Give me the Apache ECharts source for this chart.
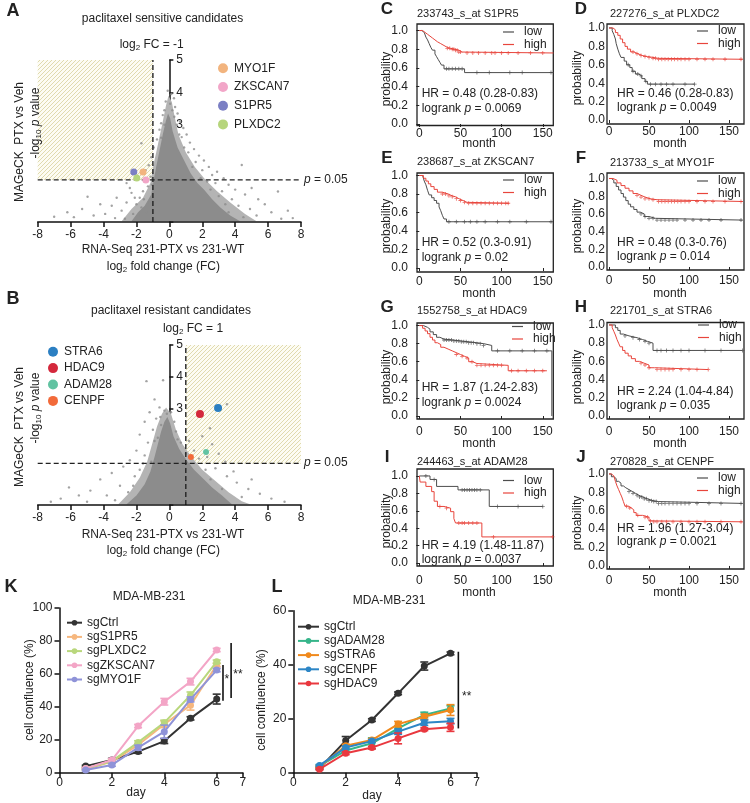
<!DOCTYPE html>
<html><head><meta charset="utf-8">
<script src="https://cdn.jsdelivr.net/npm/echarts@6/dist/echarts.min.js"></script>
<style>html,body{margin:0;padding:0;background:#fff}#c{width:750px;height:803px}</style>
</head><body><div id="c"></div>
<script>
// ---------------- DATA ----------------
const pCutoff = 1.3;               // -log10(0.05)
const fcCutSens = -1, fcCutRes = 1;
const volcanoYLabelMin = 3;

const sensNames = ['MYO1F','ZKSCAN7','S1PR5','PLXDC2'];
const sensLog2FC = [-1.6, -1.43, -2.16, -1.98];
const sensNegLogP = [1.54, 1.3, 1.54, 1.36];
const resNames = ['STRA6','HDAC9','ADAM28','CENPF'];
const resLog2FC = [2.96, 1.86, 2.23, 1.31];
const resNegLogP = [3.03, 2.84, 1.66, 1.5];

// gene cloud: sparse halo outline, dense core outline, and individually visible genes
const cloudHaloA = [[-2.9,0.02],[-2.3,0.4],[-1.6,0.75],[-1.15,1.2],[-0.95,1.8],[-0.65,2.5],[-0.4,3.1],[-0.2,3.6],[-0.05,3.9],[0.15,3.7],[0.3,3.3],[0.55,2.7],[1.0,2.15],[1.55,1.7],[2.2,1.3],[2.9,0.95],[3.7,0.6],[4.6,0.25],[5.3,0.02]];
const cloudCoreA = [[-2.3,0.02],[-1.9,0.3],[-1.5,0.5],[-1.1,0.85],[-0.95,1.3],[-0.8,1.7],[-0.6,2.2],[-0.4,2.7],[-0.22,3.1],[-0.08,3.35],[0.05,3.2],[0.2,2.8],[0.5,2.3],[0.9,1.9],[1.3,1.5],[1.7,1.2],[2.1,1.0],[2.6,0.7],[3.1,0.45],[3.7,0.2],[4.3,0.02]];
const cloudDotsA = [[-0.1,4.05],[0.12,3.95],[0.28,3.82],[-0.22,3.72],[0.05,3.65],[0.35,3.55],[-0.3,3.45],[0.18,3.45],[0.5,3.35],[-0.4,3.3],[0.3,3.25],[0.65,3.1],[-0.5,3.05],[0.45,3.0],[0.85,2.9],[-0.6,2.85],[1.05,2.7],[0.75,2.62],[-0.75,2.55],[1.25,2.45],[-1.7,2.43],[1.5,2.25],[-0.95,2.3],[1.15,2.15],[1.8,2.05],[-1.1,2.0],[2.1,1.9],[1.6,1.85],[-1.25,1.75],[2.4,1.7],[2.0,1.6],[2.9,1.55],[4.4,1.76],[-1.45,1.6],[2.6,1.45],[3.3,1.35],[1.9,1.35],[2.3,1.25],[-2.6,1.2],[3.6,1.15],[4.0,1.0],[3.2,0.95],[4.6,0.85],[5.0,1.05],[5.4,0.7],[3.8,0.7],[4.2,0.5],[4.9,0.4],[5.8,0.55],[6.6,0.94],[6.2,0.3],[7.2,0.35],[7.5,0.12],[5.3,0.2],[4.5,0.15],[6.8,0.1],[3.6,0.3],[2.8,1.2],[3.0,0.8],[2.5,1.0],[3.4,0.55],[-1.3,1.1],[-1.6,0.95],[-1.8,0.75],[-2.0,0.55],[-2.3,0.9],[-2.6,0.6],[-2.9,0.35],[-3.2,0.75],[-3.5,0.5],[-3.9,0.25],[-4.2,0.55],[-4.6,0.2],[-4.97,0.78],[-5.3,0.4],[-5.8,0.15],[-6.2,0.3],[-7.0,0.16],[-2.2,0.25],[-2.7,0.1],[-3.3,0.12],[-1.4,0.3],[-1.9,0.2],[-1.2,0.6],[-2.4,1.05],[-1.05,1.15],[-1.7,0.45],[-2.1,0.75],[-1.55,0.7],[-1.15,1.4],[1.4,1.7],[0.9,2.3],[-0.5,2.6],[0.6,2.7],[-0.3,3.0]];

const cloudHaloB = [[-3.1,0.02],[-2.4,0.4],[-1.8,0.85],[-1.35,1.35],[-1.05,1.9],[-0.75,2.45],[-0.45,2.85],[-0.2,3.05],[0.1,2.85],[0.4,2.35],[0.8,1.9],[1.35,1.5],[2.0,1.1],[2.8,0.75],[3.6,0.4],[4.4,0.12],[4.9,0.02]];
const cloudCoreB = [[-2.6,0.02],[-2.0,0.3],[-1.5,0.65],[-1.15,1.05],[-0.9,1.5],[-0.7,1.9],[-0.5,2.3],[-0.3,2.6],[-0.12,2.75],[0.05,2.55],[0.25,2.15],[0.6,1.75],[1.05,1.4],[1.5,1.1],[2.0,0.85],[2.6,0.55],[3.2,0.3],[3.8,0.02]];
const cloudDotsB = [[-1.39,3.87],[-0.38,3.9],[-0.9,3.3],[-0.6,3.05],[-1.2,2.9],[-0.3,2.95],[-0.8,2.7],[-1.5,2.6],[-0.5,2.5],[-1.0,2.35],[-0.15,2.85],[0.1,2.9],[3.5,3.15],[2.47,2.4],[-1.8,2.2],[-0.7,2.1],[0.4,2.3],[-1.3,1.95],[0.7,1.95],[-2.0,1.7],[1.2,2.0],[2.0,2.15],[1.5,1.7],[2.6,1.9],[-1.5,1.55],[2.3,1.5],[3.0,1.6],[1.8,1.45],[3.4,1.35],[-2.4,1.4],[-2.8,1.2],[-3.5,1.0],[-4.2,0.8],[-3.0,0.6],[-4.8,0.45],[-5.5,0.3],[-6.1,0.55],[-3.8,0.3],[-2.5,0.4],[-2.1,0.9],[-1.8,1.1],[2.8,1.15],[3.5,0.9],[4.1,0.7],[4.8,0.5],[5.5,0.35],[6.2,0.2],[3.2,0.5],[4.4,0.25],[7.0,0.1],[2.5,0.8],[5.0,0.8],[3.9,1.05],[-7.2,0.1],[-6.6,0.2],[-5.0,0.1],[-3.3,0.15],[-1.1,1.35],[-0.55,2.75],[0.3,2.6],[1.0,1.6],[2.2,1.1],[-1.6,1.3],[-2.2,0.6],[3.0,0.3],[-0.9,2.0],[0.5,2.05]];

// Kaplan-Meier step points [month, survival probability]
const kmMonthTicks = [0,50,100,150];
const kmProbTicks = [0,0.2,0.4,0.6,0.8,1.0];

const kmS1PR5Low  = [[0,1],[3,0.98],[6,0.96],[8,0.93],[10,0.9],[12,0.86],[14,0.82],[16,0.79],[19,0.75],[21,0.72],[23,0.69],[25,0.66],[27,0.63],[30,0.59],[55,0.55],[163,0.55]];
const kmS1PR5High = [[0,1],[4,0.98],[7,0.96],[10,0.94],[13,0.92],[16,0.9],[19,0.88],[22,0.86],[26,0.84],[30,0.82],[34,0.81],[38,0.8],[43,0.79],[48,0.77],[52,0.76],[163,0.76]];
const censS1PR5Low  = [33,36,40,44,48,52,70,85,110,125,160];
const censS1PR5High = [34,37,40,42,44,46,48,50,58,65,72,80,88,92,100,108,120,135,150,163];

const kmPLXDC2Low  = [[0,1],[4,0.97],[6,0.93],[8,0.88],[9,0.83],[11,0.77],[13,0.72],[15,0.68],[19,0.64],[22,0.6],[26,0.57],[29,0.53],[33,0.5],[37,0.48],[41,0.45],[45,0.42],[48,0.39],[107,0.39]];
const kmPLXDC2High = [[0,1],[5,0.98],[8,0.95],[11,0.92],[14,0.88],[17,0.84],[20,0.8],[23,0.77],[27,0.74],[31,0.72],[36,0.7],[42,0.69],[48,0.68],[55,0.67],[62,0.66],[167,0.66]];
const censPLXDC2Low  = [24,30,36,40,46,52,58,65,72,80,95,107];
const censPLXDC2High = [30,35,40,45,50,55,58,62,66,70,74,78,82,86,90,95,100,110,120,130,145,165];

const kmZKSCAN7Low  = [[0,1],[4,0.98],[6,0.94],[8,0.9],[10,0.84],[12,0.79],[15,0.76],[18,0.73],[21,0.7],[24,0.66],[26,0.62],[28,0.57],[30,0.53],[33,0.5],[162,0.5]];
const kmZKSCAN7High = [[0,1],[5,0.97],[8,0.94],[11,0.91],[14,0.88],[18,0.85],[22,0.82],[28,0.8],[35,0.78],[40,0.77],[44,0.75],[48,0.73],[53,0.71],[58,0.7],[109,0.7]];
const censZKSCAN7Low  = [36,45,55,62,70,80,95,110,130,160];
const censZKSCAN7High = [28,32,36,40,45,50,55,60,65,70,75,80,85,90,95,100,105,108];

const kmMYO1FLow  = [[0,1],[3,0.98],[6,0.95],[9,0.91],[12,0.87],[15,0.83],[18,0.79],[21,0.75],[24,0.71],[27,0.68],[31,0.65],[35,0.62],[39,0.6],[44,0.57],[50,0.55],[58,0.53],[167,0.53]];
const kmMYO1FHigh = [[0,1],[5,0.98],[10,0.95],[15,0.92],[20,0.89],[25,0.86],[30,0.83],[35,0.81],[40,0.79],[45,0.77],[52,0.76],[60,0.74],[167,0.74]];
const censMYO1FLow  = [40,45,50,55,60,65,70,75,80,85,95,105,115,125,140,165];
const censMYO1FHigh = [35,40,45,50,55,62,66,70,74,78,82,86,90,95,100,110,120,130,145,165];

const kmHDAC9Low  = [[0,1],[5,0.98],[10,0.96],[13,0.93],[17,0.9],[21,0.87],[25,0.85],[30,0.84],[40,0.83],[50,0.82],[60,0.81],[70,0.8],[78,0.78],[88,0.72],[161,0]];
const kmHDAC9High = [[0,1],[4,0.97],[7,0.94],[10,0.91],[13,0.87],[16,0.84],[19,0.81],[22,0.79],[26,0.76],[30,0.74],[35,0.72],[40,0.7],[45,0.68],[50,0.66],[55,0.64],[60,0.6],[65,0.58],[70,0.56],[108,0.5],[155,0.5]];
const censHDAC9Low  = [30,33,36,39,42,45,48,51,54,57,60,63,66,70,74,78,95,110,125,140,155];
const censHDAC9High = [45,52,58,64,70,75,80,85,90,95,100,112,120,130,140,150];

const kmSTRA6Low  = [[0,1],[8,0.97],[11,0.94],[14,0.9],[18,0.88],[25,0.86],[35,0.84],[42,0.82],[48,0.8],[55,0.72],[167,0.72]];
const kmSTRA6High = [[0,1],[4,0.97],[6,0.93],[8,0.89],[10,0.84],[12,0.8],[14,0.76],[17,0.72],[20,0.69],[24,0.66],[28,0.63],[33,0.6],[38,0.58],[44,0.56],[50,0.53],[57,0.51],[124,0.51]];
const censSTRA6Low  = [20,30,38,45,50,60,65,72,80,90,100,120,140,167];
const censSTRA6High = [40,45,50,60,65,70,75,80,90,100,110,124];

const kmADAM28Low  = [[0,1],[13,0.96],[21,0.88],[47,0.84],[85,0.65],[150,0.65]];
const kmADAM28High = [[0,1],[1,0.93],[8,0.88],[15,0.82],[18,0.71],[22,0.65],[30,0.63],[38,0.59],[42,0.51],[44,0.46],[76,0.3],[162,0.3]];
const censADAM28Low  = [8,18,52,55,58,61,64,67,70,74,95,120,150];
const censADAM28High = [25,33,48,52,55,60,65,70,90,162];

const kmCENPFLow  = [[0,1],[3,0.97],[6,0.95],[9,0.92],[12,0.9],[15,0.87],[18,0.85],[21,0.83],[25,0.81],[29,0.79],[33,0.77],[37,0.75],[42,0.73],[48,0.71],[55,0.7],[62,0.68],[167,0.68]];
const kmCENPFHigh = [[0,1],[3,0.98],[6,0.96],[8,0.92],[10,0.87],[12,0.83],[14,0.79],[16,0.75],[18,0.7],[20,0.65],[24,0.63],[28,0.61],[31,0.58],[34,0.55],[42,0.53],[50,0.49],[55,0.48],[167,0.48]];
const censCENPFLow  = [25,30,35,38,41,44,47,50,53,56,59,62,66,70,75,80,85,90,95,100,110,125,140,165];
const censCENPFHigh = [22,26,36,45,48,52,56,60,66,72,80,90,100,110,120,140,165];

const kmTitles = ['233743_s_at S1PR5','227276_s_at PLXDC2','238687_s_at ZKSCAN7','213733_s_at MYO1F','1552758_s_at HDAC9','221701_s_at STRA6','244463_s_at ADAM28','270828_s_at CENPF'];
const kmHR = ['HR = 0.48 (0.28-0.83)','HR = 0.46 (0.28-0.83)','HR = 0.52 (0.3-0.91)','HR = 0.48 (0.3-0.76)','HR = 1.87 (1.24-2.83)','HR = 2.24 (1.04-4.84)','HR = 4.19 (1.48-11.87)','HR = 1.96 (1.27-3.04)'];
const kmLogrankP = ['0.0069','0.0049','0.02','0.014','0.0024','0.035','0.0037','0.0021'];

// proliferation curves (cell confluence %, mean and error)
const days = [1,2,3,4,5,6];
const kNames = ['sgCtrl','sgS1PR5','sgPLXDC2','sgZKSCAN7','sgMYO1F'];
const kMeans = [[4.0,7.7,12.8,19.2,33,44.7],[2,6.7,16.8,29.4,41,65.4],[2.5,7,18.4,30.4,47,67.4],[2.6,7.7,28.3,43.1,55.3,74.5],[1.6,4.7,15.2,24.9,44.5,62.3]];
const kErr = [[0.5,1,1,1.5,1,3],[0.5,0.8,1,2,3,1],[0.5,0.8,1,1.5,2,1],[0.5,0.8,1,2,2,1],[0.5,0.8,1.5,4,1.5,1]];
const lNames = ['sgCtrl','sgADAM28','sgSTRA6','sgCENPF','sgHDAC9'];
const lMeans = [[1.6,11.9,19.5,29.4,39.5,44.2],[2.5,8.2,10.9,16.4,21.4,23.8],[2.2,10,12.1,18,20.7,23.2],[2.7,9.3,11.7,15.2,18.5,19.1],[1.3,7.2,9.3,12.7,16.1,16.8]];
const lErr = [[0.3,1.5,0.5,0.5,1.5,0.5],[0.3,0.5,2,1,1,1],[0.3,0.5,0.5,1,1,2],[0.3,0.5,0.5,1,1,1],[0.3,0.5,0.5,2,0.5,1.5]];
const sigBarsK = [[6.24,43.7,65.4],[6.55,45.4,78.8]];
const sigStarsK = [[6.39,56.3,'*'],[6.81,59.3,'**']];
const sigBarsL = [[6.3,16.4,44.8]];
const sigStarsL = [[6.62,28.1,'**']];

// ---------------- STYLES / BUILD ----------------
const FONT = '"Liberation Sans", Arial, Helvetica, sans-serif';
const sensColors = ['#f2b47e','#f2a6c8','#7b7fc4','#b6d57c'];
const resColors = ['#2b7fc2','#d4283c','#62c3a2','#f26a3a'];
const kColors = ['#333333','#f6b77e','#b9d77c','#f3a5c6','#8f93d8'];
const lColors = ['#333333','#36b58a','#f0891c','#2d86c6','#e9383f'];
const lowColor = '#4d4d4d', highColor = '#e8453c', cloudColor = '#8c8c8c', haloColor = '#b4b4b4';

function hatch(){
  const c = document.createElement('canvas'); c.width = 4; c.height = 4;
  const g = c.getContext('2d');
  g.fillStyle = '#fdfcf3'; g.fillRect(0,0,4,4);
  g.strokeStyle = '#d8d19c'; g.lineWidth = 0.8;
  g.beginPath(); g.moveTo(-1,5); g.lineTo(5,-1); g.stroke();
  g.beginPath(); g.moveTo(-1,1); g.lineTo(1,-1); g.stroke();
  g.beginPath(); g.moveTo(3,5); g.lineTo(5,3); g.stroke();
  return {image: c, repeat: 'repeat'};
}
const hatchFill = hatch();

const grids=[], xAxes=[], yAxes=[], series=[], legends=[], graphics=[];
function addGrid(g, xa, ya){
  grids.push(g); const i = grids.length-1;
  xa.gridIndex = i; ya.gridIndex = i; xAxes.push(xa); yAxes.push(ya); return i;
}
function T(x, y, text, o){
  o = o || {};
  const st = {text, fill: o.color || '#222', fontSize: o.size || 12, fontWeight: o.bold ? 'bold' : 'normal',
    fontFamily: FONT, align: o.align || 'left', verticalAlign: 'middle', textAlign: o.align || 'left', textVerticalAlign: 'middle',
    rich: {
      s: {fontSize: 8, fontFamily: FONT, fill: '#222', verticalAlign: 'bottom', lineHeight: 14},
      i: {fontStyle: 'italic', fontSize: o.size || 12, fontFamily: FONT, fill: '#222', lineHeight: 14}
    }};
  graphics.push({type: 'text', x, y, rotation: o.rot || 0, silent: true, z: 100, style: st});
}

const dashStyle = {color: '#222', width: 1.4, type: [5, 3]};
const VX0 = 37.7, VW = 263.3;

function volcano(cfg){
  const gi = addGrid({left: VX0, top: cfg.top, width: VW, height: cfg.h},
    {type: 'value', min: -8, max: 8, interval: 2, z: 10,
      axisLine: {onZero: false, lineStyle: {color: '#111', width: 1.5}},
      axisTick: {length: 5, lineStyle: {color: '#111', width: 1.5}},
      axisLabel: {color: '#222', fontSize: 12, margin: 7, fontFamily: FONT}, splitLine: {show: false}},
    {type: 'value', min: 0, max: 5, interval: 1, position: 'left', offset: -VW / 2,
      axisLine: {onZero: false, lineStyle: {color: '#111', width: 1.5}},
      axisTick: {inside: true, length: 4, lineStyle: {color: '#111', width: 1.5}},
      axisLabel: {inside: true, margin: 7, color: '#222', fontSize: 12, fontFamily: FONT,
        formatter: v => v >= volcanoYLabelMin ? String(v) : ''},
      splitLine: {show: false}});
  const hb = cfg.hatch;
  series.push({type: 'custom', xAxisIndex: gi, yAxisIndex: gi, data: [0], silent: true, z: 1,
    renderItem: (p, api) => {
      const a = api.coord([hb[0], hb[3]]), b = api.coord([hb[1], hb[2]]);
      return {type: 'rect', shape: {x: a[0], y: a[1], width: b[0]-a[0], height: b[1]-a[1]}, style: {fill: hatchFill}};
    }});
  series.push({type: 'custom', xAxisIndex: gi, yAxisIndex: gi, data: [0], silent: true, z: 2,
    renderItem: (p, api) => ({type: 'polygon', shape: {points: cfg.halo.map(q => api.coord(q))}, style: {fill: haloColor}})});
  series.push({type: 'custom', xAxisIndex: gi, yAxisIndex: gi, data: [0], silent: true, z: 3,
    renderItem: (p, api) => ({type: 'polygon', shape: {points: cfg.core.map(q => api.coord(q))}, style: {fill: cloudColor}})});
  series.push({type: 'scatter', xAxisIndex: gi, yAxisIndex: gi, data: cfg.dots, symbolSize: 2.4, silent: true, z: 3,
    itemStyle: {color: cloudColor}});
  series.push({type: 'line', xAxisIndex: gi, yAxisIndex: gi, data: [[cfg.fc, 0], [cfg.fc, 5]], symbol: 'none', silent: true, z: 5, lineStyle: dashStyle});
  series.push({type: 'line', xAxisIndex: gi, yAxisIndex: gi, data: [[-8, pCutoff], [8, pCutoff]], symbol: 'none', silent: true, z: 5, lineStyle: dashStyle});
  cfg.names.forEach((n, i) => {
    series.push({type: 'scatter', name: n, xAxisIndex: gi, yAxisIndex: gi, data: [[cfg.x[i], cfg.y[i]]],
      symbolSize: cfg.sizes[i], z: 8, itemStyle: {color: cfg.colors[i], opacity: 1}});
  });
  legends.push({left: cfg.legLeft, top: cfg.legTop, padding: 0, orient: 'vertical', data: cfg.names, icon: 'circle',
    itemWidth: 10, itemHeight: 10, itemGap: cfg.legGap, selectedMode: false,
    textStyle: {fontSize: 12, color: '#222', fontFamily: FONT, lineHeight: 14, padding: [0, 0, 0, 1]}});
}

volcano({top: 60, h: 162, hatch: [-8, fcCutSens, pCutoff, 5], halo: cloudHaloA, core: cloudCoreA, dots: cloudDotsA, fc: fcCutSens,
  names: sensNames, x: sensLog2FC, y: sensNegLogP, colors: sensColors, sizes: [7,7,7,7], legLeft: 218, legTop: 61.3, legGap: 4.7});
volcano({top: 345, h: 160, hatch: [fcCutRes, 8, pCutoff, 5], halo: cloudHaloB, core: cloudCoreB, dots: cloudDotsB, fc: fcCutRes,
  names: resNames, x: resLog2FC, y: resNegLogP, colors: resColors, sizes: [8,8,6,6], legLeft: 48, legTop: 344.7, legGap: 2.4});

// volcano texts
T(13, 11, 'A', {bold: true, size: 18, align: 'center'});
T(162.5, 19, 'paclitaxel sensitive candidates', {align: 'center'});
T(151.7, 45, 'log{s|2} FC = -1', {align: 'center'});
T(304, 180, '{i|p} = 0.05');
T(20, 142, 'MAGeCK  PTX vs Veh', {rot: Math.PI/2, align: 'center'});
T(36, 123, '-log{s|10} {i|p} value', {rot: Math.PI/2, align: 'center'});
T(163, 250, 'RNA-Seq 231-PTX vs 231-WT', {align: 'center'});
T(163.3, 266.7, 'log{s|2} fold change (FC)', {align: 'center'});
T(13, 299, 'B', {bold: true, size: 18, align: 'center'});
T(171, 310.7, 'paclitaxel resistant candidates', {align: 'center'});
T(193, 328.3, 'log{s|2} FC = 1', {align: 'center'});
T(304, 463, '{i|p} = 0.05');
T(20, 427, 'MAGeCK  PTX vs Veh', {rot: Math.PI/2, align: 'center'});
T(36, 408, '-log{s|10} {i|p} value', {rot: Math.PI/2, align: 'center'});
T(163, 535, 'RNA-Seq 231-PTX vs 231-WT', {align: 'center'});
T(163.3, 551, 'log{s|2} fold change (FC)', {align: 'center'});

// ---------------- KM panels ----------------
function survAt(curve, t){ let v = curve[0][1]; for (const p of curve){ if (p[0] <= t) v = p[1]; } return v; }
const plusSymbol = 'path://M4,0H6V4H10V6H6V10H4V6H0V4H4Z';
const kmData = [
  [kmS1PR5Low, kmS1PR5High, censS1PR5Low, censS1PR5High],
  [kmPLXDC2Low, kmPLXDC2High, censPLXDC2Low, censPLXDC2High],
  [kmZKSCAN7Low, kmZKSCAN7High, censZKSCAN7Low, censZKSCAN7High],
  [kmMYO1FLow, kmMYO1FHigh, censMYO1FLow, censMYO1FHigh],
  [kmHDAC9Low, kmHDAC9High, censHDAC9Low, censHDAC9High],
  [kmSTRA6Low, kmSTRA6High, censSTRA6Low, censSTRA6High],
  [kmADAM28Low, kmADAM28High, censADAM28Low, censADAM28High],
  [kmCENPFLow, kmCENPFHigh, censCENPFLow, censCENPFHigh]
];
const colX = [{left: 417, width: 136.3, x: [-2.8, 162.8], ym: 9, tick: true, letter: 387, title: 417, prob: 387, hr: 421.7},
              {left: 607, width: 137, x: [-2.5, 168.75], ym: 2, tick: false, letter: 581, title: 610, prob: 578, hr: 617}];
const kmLayout = [
  {top: 24, h: 101.5, y: [-0.016, 1.07], xm: 2, letterY: 9, titleY: 14, probY: 79, month: 144, hr: 94, lr: 109, legL: 503, legT: 26},
  {top: 24, h: 100, y: [-0.043, 1.043], xm: 2, letterY: 9, titleY: 14, probY: 78, month: 144, hr: 94, lr: 108, legL: 697, legT: 25},
  {top: 173, h: 99, y: [-0.043, 1.027], xm: 4, letterY: 158, titleY: 162, probY: 226, month: 294, hr: 242.3, lr: 257.3, legL: 503, legT: 174},
  {top: 173, h: 97, y: [-0.034, 1.062], xm: 5, letterY: 158, titleY: 163, probY: 226, month: 294, hr: 242.3, lr: 257, legL: 697, legT: 175},
  {top: 323, h: 96, y: [-0.033, 1.028], xm: 7, letterY: 307, titleY: 311, probY: 377, month: 443.5, hr: 387.7, lr: 402.7, legL: 512, legT: 320.5},
  {top: 322.5, h: 96.5, y: [-0.033, 1.027], xm: 7, letterY: 307, titleY: 311, probY: 377, month: 443.5, hr: 391.7, lr: 406, legL: 698, legT: 319},
  {top: 469, h: 97, y: [-0.034, 1.08], xm: 8.5, letterY: 457, titleY: 462, probY: 521, month: 593, hr: 546, lr: 559.3, legL: 503, legT: 474.5},
  {top: 469, h: 100, y: [-0.033, 1.054], xm: 6, letterY: 457, titleY: 462, probY: 523, month: 593, hr: 528.3, lr: 541.7, legL: 697, legT: 472}
];
const kmLetters = ['C','D','E','F','G','H','I','J'];

kmData.forEach((d, i) => {
  const L = kmLayout[i], C = colX[i % 2];
  const gi = addGrid({left: C.left, top: L.top, width: C.width, height: L.h, show: true, borderColor: '#222', borderWidth: 1.3, backgroundColor: 'rgba(0,0,0,0)'},
    {type: 'value', min: C.x[0], max: C.x[1],
      axisLine: {show: false},
      axisTick: {show: true, length: 3, customValues: kmMonthTicks, lineStyle: {color: '#222'}},
      axisLabel: {customValues: kmMonthTicks, margin: L.xm, fontSize: 12, color: '#222', fontFamily: FONT},
      splitLine: {show: false}},
    {type: 'value', min: L.y[0], max: L.y[1],
      axisLine: {show: false},
      axisTick: {show: C.tick, length: 3, customValues: kmProbTicks, lineStyle: {color: '#222'}},
      axisLabel: {customValues: kmProbTicks, margin: C.ym, fontSize: 12, color: '#222', fontFamily: FONT, formatter: v => v.toFixed(1)},
      splitLine: {show: false}});
  series.push({type: 'line', name: 'low', step: 'end', xAxisIndex: gi, yAxisIndex: gi, data: d[0], symbol: 'none', silent: true, z: 4,
    lineStyle: {color: lowColor, width: 1}, itemStyle: {color: lowColor}});
  series.push({type: 'line', name: 'high', step: 'end', xAxisIndex: gi, yAxisIndex: gi, data: d[1], symbol: 'none', silent: true, z: 5,
    lineStyle: {color: highColor, width: 1}, itemStyle: {color: highColor}});
  series.push({type: 'scatter', xAxisIndex: gi, yAxisIndex: gi, data: d[2].map(t => [t, survAt(d[0], t)]), symbol: plusSymbol, symbolSize: 4, silent: true, z: 4,
    itemStyle: {color: lowColor}});
  series.push({type: 'scatter', xAxisIndex: gi, yAxisIndex: gi, data: d[3].map(t => [t, survAt(d[1], t)]), symbol: plusSymbol, symbolSize: 4, silent: true, z: 5,
    itemStyle: {color: highColor}});
  legends.push({left: L.legL, top: L.legT, padding: 0, orient: 'vertical', data: ['low', 'high'], icon: 'rect', itemWidth: 11, itemHeight: 1.2, itemGap: 0.5,
    selectedMode: false, textStyle: {fontSize: 12, color: '#222', fontFamily: FONT, lineHeight: 12, padding: [0, 0, 0, 5]}});
  T(C.letter, L.letterY, kmLetters[i], {bold: true, size: 17, align: 'center'});
  T(C.title, L.titleY, kmTitles[i], {size: 11});
  T(C.prob, L.probY, 'probability', {rot: Math.PI/2, align: 'center'});
  T(C.left + C.width * (C.x[1] > 165 ? 0.46 : 0.455), L.month, 'month', {align: 'center'});
  T(C.hr, L.hr, kmHR[i]);
  T(C.hr, L.lr, 'logrank {i|p} = ' + kmLogrankP[i]);
});

// ---------------- growth panels ----------------
function growth(cfg){
  const gi = addGrid({left: cfg.left, top: cfg.top, width: 183.4, height: cfg.h},
    {type: 'value', min: 0, max: 7, interval: 2,
      axisLine: {onZero: false, lineStyle: {color: '#111', width: 1.5}},
      axisTick: {length: 5, lineStyle: {color: '#111', width: 1.5}},
      axisLabel: {fontSize: 12, color: '#222', margin: 4, fontFamily: FONT}, splitLine: {show: false}},
    {type: 'value', min: 0, max: cfg.ymax, interval: 20,
      axisLine: {show: true, lineStyle: {color: '#111', width: 1.5}},
      axisTick: {show: true, length: 5, lineStyle: {color: '#111', width: 1.5}},
      axisLabel: {fontSize: 12, color: '#222', margin: 7, fontFamily: FONT}, splitLine: {show: false}});
  cfg.names.forEach((n, k) => {
    const col = cfg.colors[k];
    series.push({type: 'custom', xAxisIndex: gi, yAxisIndex: gi, silent: true, z: 3 + k,
      data: days.map((dd, j) => [dd, cfg.means[k][j], cfg.err[k][j]]),
      renderItem: (p, api) => {
        const x = api.value(0), y = api.value(1), e = api.value(2);
        const t = api.coord([x, y + e]), b = api.coord([x, y - e]); const w = 4;
        const s = {stroke: col, lineWidth: 1.6};
        return {type: 'group', children: [
          {type: 'line', shape: {x1: t[0], y1: t[1], x2: b[0], y2: b[1]}, style: s},
          {type: 'line', shape: {x1: t[0]-w, y1: t[1], x2: t[0]+w, y2: t[1]}, style: s},
          {type: 'line', shape: {x1: b[0]-w, y1: b[1], x2: b[0]+w, y2: b[1]}, style: s}]};
      }});
    series.push({type: 'line', name: n, xAxisIndex: gi, yAxisIndex: gi, silent: true, z: 3 + k,
      data: days.map((dd, j) => [dd, cfg.means[k][j]]), symbol: 'circle', symbolSize: 7,
      lineStyle: {color: col, width: 2}, itemStyle: {color: col}});
  });
  series.push({type: 'custom', xAxisIndex: gi, yAxisIndex: gi, silent: true, z: 20, data: cfg.bars,
    renderItem: (p, api) => {
      const a = api.coord([api.value(0), api.value(1)]), b = api.coord([api.value(0), api.value(2)]);
      return {type: 'line', shape: {x1: a[0], y1: a[1], x2: b[0], y2: b[1]}, style: {stroke: '#111', lineWidth: 1.6}};
    }});
  series.push({type: 'custom', xAxisIndex: gi, yAxisIndex: gi, silent: true, z: 20, data: cfg.stars.map(s => [s[0], s[1]]),
    renderItem: (p, api) => {
      const a = api.coord([api.value(0), api.value(1)]);
      return {type: 'text', x: a[0], y: a[1], style: {text: cfg.stars[p.dataIndex][2], fontSize: 12, fontFamily: FONT, fill: '#222', align: 'center', verticalAlign: 'middle'}};
    }});
  legends.push({left: cfg.legL, top: cfg.legT, padding: 0, orient: 'vertical', data: cfg.names, itemWidth: cfg.legW, itemHeight: 7, itemGap: 0.2,
    selectedMode: false, textStyle: {fontSize: 12, color: '#222', fontFamily: FONT, lineHeight: 14}});
}
growth({left: 59.5, top: 608, h: 164.7, ymax: 100, names: kNames, means: kMeans, err: kErr, colors: kColors,
  bars: sigBarsK, stars: sigStarsK, legL: 66, legT: 615.7, legW: 15});
growth({left: 293.3, top: 610.7, h: 162, ymax: 60, names: lNames, means: lMeans, err: lErr, colors: lColors,
  bars: sigBarsL, stars: sigStarsL, legL: 297, legT: 619.7, legW: 21});

T(11, 587, 'K', {bold: true, size: 18, align: 'center'});
T(149, 597, 'MDA-MB-231', {align: 'center'});
T(30, 690, 'cell confluence (%)', {rot: Math.PI/2, align: 'center'});
T(136, 793, 'day', {align: 'center'});
T(277, 587, 'L', {bold: true, size: 18, align: 'center'});
T(389, 601, 'MDA-MB-231', {align: 'center'});
T(262, 700, 'cell confluence (%)', {rot: Math.PI/2, align: 'center'});
T(372, 796, 'day', {align: 'center'});

const chart = echarts.init(document.getElementById('c'), null, {renderer: 'canvas'});
chart.setOption({
  animation: false,
  backgroundColor: '#fff',
  textStyle: {fontFamily: FONT},
  grid: grids, xAxis: xAxes, yAxis: yAxes, series, legend: legends, graphic: graphics
});
</script></body></html>
